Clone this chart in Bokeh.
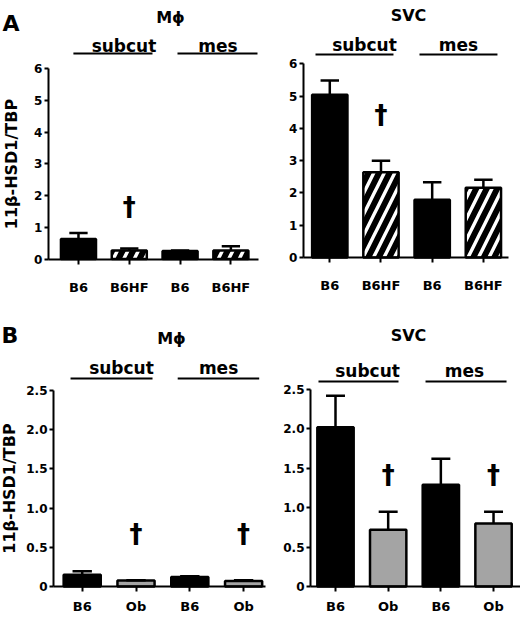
from bokeh.plotting import figure
from bokeh.layouts import column, row
from bokeh.models import Range1d, FixedTicker, ColumnDataSource
from bokeh.core.properties import value
from bokeh.embed import file_html
from bokeh.resources import INLINE

# ---------------- data ----------------
positions = [1, 2, 3, 4]
groups = ["subcut", "mes"]
a_labels = ["B6", "B6HF", "B6", "B6HF"]
b_labels = ["B6", "Ob", "B6", "Ob"]
cell_titles = ["M\u03d5", "SVC"]
panel_letters = ["A", "B"]
y_axis_title = "11\u03b2-HSD1/TBP"

a_mac_mean = [0.63, 0.27, 0.25, 0.27]
a_mac_sem = [0.19, 0.06, 0.02, 0.13]
a_svc_mean = [5.04, 2.64, 1.79, 2.16]
a_svc_sem = [0.44, 0.36, 0.54, 0.25]
b_mac_mean = [0.15, 0.075, 0.12, 0.07]
b_mac_sem = [0.045, 0.005, 0.01, 0.01]
b_svc_mean = [2.02, 0.72, 1.29, 0.80]
b_svc_sem = [0.40, 0.23, 0.33, 0.15]

a_yticks = [0, 1, 2, 3, 4, 5, 6]
a_ytick_labels = ["0", "1", "2", "3", "4", "5", "6"]
b_yticks = [0, 0.5, 1.0, 1.5, 2.0, 2.5]
b_ytick_labels = ["0", "0.5", "1.0", "1.5", "2.0", "2.5"]

a_mac_dagger_x = [2]
a_mac_dagger_y = [1.64]
a_svc_dagger_x = [2]
a_svc_dagger_y = [4.42]
b_mac_dagger_x = [2, 4]
b_mac_dagger_y = [0.667, 0.667]
b_svc_dagger_x = [2, 4]
b_svc_dagger_y = [1.42, 1.42]

# ---------------- styles ----------------
FONT = value("DejaVu Sans")
a_fill = ["black", "white", "black", "white"]
a_hatch = [" ", "/", " ", "/"]
b_fill = ["black", "#a4a4a4", "black", "#a4a4a4"]
b_hatch = [" ", " ", " ", " "]
BAR_W = 0.69
CAP = 0.18


def panel(w, h, g, mean, sem, labels, fills, hatches, yticks, ylabels,
          title, dag_x, dag_y, letter=None, ylabel=False):
    p = figure(width=w, height=h, x_range=Range1d(*g["xr"]), y_range=Range1d(*g["yr"]),
               output_backend="svg", toolbar_location=None)
    p.min_border = 0
    p.min_border_left = p.min_border_right = p.min_border_top = p.min_border_bottom = 0
    p.outline_line_color = None
    p.grid.visible = False
    p.background_fill_color = "white"
    p.border_fill_color = "white"

    tops = [m + s for m, s in zip(mean, sem)]
    src = ColumnDataSource(dict(x=positions, top=mean, fill=fills, hatch=hatches, etop=tops,
                                cl=[x - CAP for x in positions], cr=[x + CAP for x in positions]))
    p.vbar(x="x", top="top", bottom=0, width=BAR_W, fill_color="fill", hatch_pattern="hatch",
           hatch_color="black", hatch_weight=6, hatch_scale=21, line_color="black",
           line_width=2.5, source=src)
    p.segment(x0="x", y0="top", x1="x", y1="etop", line_color="black", line_width=2.5, source=src)
    p.segment(x0="cl", y0="etop", x1="cr", y1="etop", line_color="black", line_width=2.5, source=src)

    # daggers
    p.text(x=dag_x, y=dag_y, text=["\u2020"] * len(dag_x), text_font=FONT,
           text_font_style=value("bold"), text_font_size=value("26px"),
           text_align="center", text_baseline="middle", text_color="black")

    # group bars and labels
    (s0, s1), (m0, m1) = g["lines"]
    p.segment(x0=[s0, m0], y0=[g["line_y"]] * 2, x1=[s1, m1], y1=[g["line_y"]] * 2,
              line_color="black", line_width=2)
    p.text(x=g["group_x"], y=[g["label_y"]] * 2, text=groups, text_font=FONT,
           text_font_style=value("bold"), text_font_size=value("17px"),
           text_align="center", text_baseline="alphabetic", text_color="black")
    p.text(x=[g["title_x"]], y=[g["title_y"]], text=[title], text_font=FONT,
           text_font_style=value("bold"), text_font_size=value("16px"),
           text_align="center", text_baseline="alphabetic", text_color="black")
    if letter is not None:
        p.text(x=[g["letter_x"]], y=[g["letter_y"]], text=[letter], text_font=FONT,
               text_font_style=value("bold"), text_font_size=value("22px"),
               text_align="left", text_baseline="alphabetic", text_color="black")

    # y axis
    ya = p.yaxis[0]
    ya.fixed_location = g["yaxis_x"]
    ya.bounds = (yticks[0], yticks[-1])
    ya.ticker = FixedTicker(ticks=yticks)
    ya.major_label_overrides = {t: l for t, l in zip(yticks, ylabels)}
    ya.minor_tick_line_color = None
    ya.major_tick_in = 0
    ya.major_tick_out = 4
    ya.axis_line_width = 2
    ya.major_tick_line_width = 2
    ya.major_label_standoff = 2
    ya.major_label_text_font = "DejaVu Sans"
    ya.major_label_text_font_style = "bold"
    ya.major_label_text_font_size = "12px"
    ya.major_label_text_color = "black"
    if ylabel:
        ya.axis_label = y_axis_title
        ya.axis_label_text_font = "DejaVu Sans"
        ya.axis_label_text_font_style = "bold"
        ya.axis_label_text_font_size = "16px"
        ya.axis_label_standoff = g["ylab_standoff"]
        ya.axis_label_text_color = "black"

    # x axis
    xa = p.xaxis[0]
    xa.fixed_location = 0
    xa.bounds = (g["yaxis_x"], g["xaxis_end"])
    xa.ticker = FixedTicker(ticks=positions)
    xa.major_label_overrides = {t: l for t, l in zip(positions, labels)}
    xa.minor_tick_line_color = None
    xa.major_tick_in = 0
    xa.major_tick_out = 5
    xa.axis_line_width = 2
    xa.major_tick_line_width = 2
    xa.major_label_standoff = g["xlab_standoff"]
    xa.major_label_text_font = "DejaVu Sans"
    xa.major_label_text_font_style = "bold"
    xa.major_label_text_font_size = "13px"
    xa.major_label_text_color = "black"
    return p


gA1 = dict(xr=(-0.535, 4.78), yr=(-1.622, 8.142), yaxis_x=0.409, xaxis_end=4.543,
           line_y=6.47, lines=((0.90, 2.457), (2.949, 4.524)), label_y=6.72,
           group_x=[1.896, 3.746], title_x=2.811, title_y=7.62,
           letter_x=-0.496, letter_y=7.417, ylab_standoff=10, xlab_standoff=16)
gA2 = dict(xr=(-0.158, 4.725), yr=(-1.642, 7.962), yaxis_x=0.486, xaxis_end=4.49,
           line_y=6.289, lines=((0.721, 2.244), (2.752, 4.275)), label_y=6.568,
           group_x=[1.678, 3.514], title_x=2.537, title_y=7.497, xlab_standoff=16)
gB1 = dict(xr=(-0.519, 4.5), yr=(-0.421, 3.52), yaxis_x=0.4665, xaxis_end=4.406,
           line_y=2.653, lines=((0.783, 2.307), (2.775, 4.29)), label_y=2.781,
           group_x=[1.73, 3.535], title_x=2.66, title_y=3.163,
           letter_x=-0.50, letter_y=3.20, ylab_standoff=4, xlab_standoff=8)
gB2 = dict(xr=(-0.234, 4.512), yr=(-0.419, 3.503), yaxis_x=0.525, xaxis_end=4.51,
           line_y=2.602, lines=((0.677, 2.196), (2.709, 4.247)), label_y=2.741,
           group_x=[1.608, 3.449], title_x=2.386, title_y=3.185, xlab_standoff=8)

pA1 = panel(270, 310, gA1, a_mac_mean, a_mac_sem, a_labels, a_fill, a_hatch,
            a_yticks, a_ytick_labels, cell_titles[0], a_mac_dagger_x, a_mac_dagger_y,
            letter=panel_letters[0], ylabel=True)
pA2 = panel(250, 310, gA2, a_svc_mean, a_svc_sem, a_labels, a_fill, a_hatch,
            a_yticks, a_ytick_labels, cell_titles[1], a_svc_dagger_x, a_svc_dagger_y)
pB1 = panel(270, 309, gB1, b_mac_mean, b_mac_sem, b_labels, b_fill, b_hatch,
            b_yticks, b_ytick_labels, cell_titles[0], b_mac_dagger_x, b_mac_dagger_y,
            letter=panel_letters[1], ylabel=True)
pB2 = panel(250, 309, gB2, b_svc_mean, b_svc_sem, b_labels, b_fill, b_hatch,
            b_yticks, b_ytick_labels, cell_titles[1], b_svc_dagger_x, b_svc_dagger_y)

layout = column(row(pA1, pA2, spacing=0), row(pB1, pB2, spacing=0), spacing=0)

with open("out.html", "w") as f:
    f.write(file_html(layout, INLINE))
